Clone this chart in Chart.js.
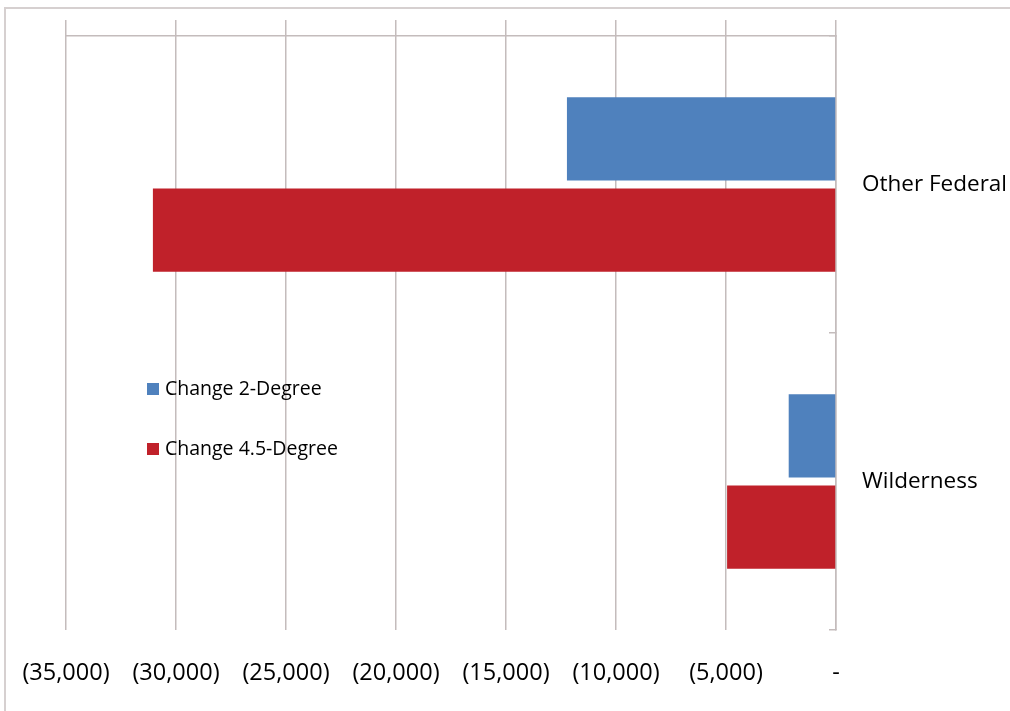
<!DOCTYPE html>
<html>
<head>
<meta charset="utf-8">
<script src="https://cdn.jsdelivr.net/npm/chart.js@4/dist/chart.umd.min.js"></script>
<style>
  html, body { margin: 0; padding: 0; background: #fff; }
  #wrap { position: relative; width: 1010px; height: 711px; }
  #frame { position: absolute; left: 4px; top: 7px; right: -2px; bottom: -2px; border-top: 2px solid #d6d0d0; border-left: 2px solid #d6d0d0; }
  canvas { position: absolute; left: 0; top: 0; }
  #legend { position: absolute; left: 147px; top: 376px; font-family: "Open Sans", sans-serif; font-size: 19.5px; color: #000; }
  #legend div { height: 24px; line-height: 24px; margin-bottom: 36px; white-space: nowrap; }
  #legend span.sw { display: inline-block; width: 12px; height: 12px; margin-right: 6px; vertical-align: 0px; }
</style>
</head>
<body>
<div id="wrap">
  <div id="frame"></div>
  <canvas id="c" width="1010" height="711"></canvas>
  <div id="legend"></div>
</div>
<script>
const categories = ["Other Federal", "Wilderness"];
const seriesNames = ["Change 2-Degree", "Change 4.5-Degree"];
const change2Degree = [-12230, -2150];
const change45Degree = [-31050, -4950];
const seriesColors = ["#4f81bd", "#c0212a"];
const xTickValues = [-35000, -30000, -25000, -20000, -15000, -10000, -5000, 0];
const xTickLabels = ["(35,000)", "(30,000)", "(25,000)", "(20,000)", "(15,000)", "(10,000)", "(5,000)", "-"];

const gridColor = "#c4bcbc";
const fontFamily = "'Open Sans', sans-serif";

const chart = new Chart(document.getElementById('c'), {
  type: 'bar',
  data: {
    labels: categories,
    datasets: [
      { label: seriesNames[0], data: change2Degree, backgroundColor: seriesColors[0], xAxisID: 'x', yAxisID: 'y' },
      { label: seriesNames[1], data: change45Degree, backgroundColor: seriesColors[1], xAxisID: 'x', yAxisID: 'y' }
    ]
  },
  options: {
    indexAxis: 'y',
    responsive: false,
    animation: false,
    devicePixelRatio: 1,
    categoryPercentage: 0.615,
    barPercentage: 0.91,
    layout: { padding: { left: 66, top: 20, right: 0, bottom: 0 } },
    plugins: { legend: { display: false }, tooltip: { enabled: false } },
    scales: {
      x: {
        type: 'linear',
        position: 'bottom',
        min: -35000, max: 0,
        afterBuildTicks: (s) => { s.ticks = xTickValues.map(v => ({ value: v })); },
        ticks: {
          padding: 2,
          color: '#000',
          font: { family: fontFamily, size: 23.5 },
          maxRotation: 0,
          callback: (v) => { const i = xTickValues.indexOf(v); return i >= 0 ? xTickLabels[i] : ''; }
        },
        grid: { color: gridColor, lineWidth: 1.5, drawTicks: true, tickLength: 27, tickColor: 'rgba(0,0,0,0)', drawOnChartArea: true },
        border: { display: false },
        afterFit: (s) => { s.height = 81; }
      },
      x2: {
        type: 'linear',
        position: 'top',
        min: -35000, max: 0,
        afterBuildTicks: (s) => { s.ticks = xTickValues.map(v => ({ value: v })); },
        ticks: { display: false },
        grid: { color: gridColor, lineWidth: 1.5, drawTicks: true, tickLength: 16, drawOnChartArea: false },
        border: { display: true, color: gridColor, width: 1.5 },
        afterFit: (s) => { s.height = 16; }
      },
      y2: {
        type: 'category',
        position: 'right',
        weight: 0,
        labels: categories,
        offset: true,
        ticks: { display: false },
        grid: { color: gridColor, lineWidth: 1.5, drawTicks: true, tickLength: -7, drawOnChartArea: false, offset: true },
        border: { display: true, color: gridColor, width: 1.5 },
        afterFit: (s) => { s.width = 0; }
      },
      y: {
        type: 'category',
        position: 'right',
        weight: 1,
        offset: true,
        ticks: {
          padding: 3,
          color: '#000',
          font: { family: fontFamily, size: 22.5 }
        },
        grid: { display: false, drawTicks: true, tickLength: 23, drawOnChartArea: false },
        border: { display: false },
        afterFit: (s) => { s.width = 174; }
      }
    }
  }
});

const lg = document.getElementById('legend');
seriesNames.forEach((n, i) => {
  const d = document.createElement('div');
  const sw = document.createElement('span');
  sw.className = 'sw';
  sw.style.background = seriesColors[i];
  d.appendChild(sw);
  d.appendChild(document.createTextNode(n));
  lg.appendChild(d);
});
</script>
</body>
</html>
